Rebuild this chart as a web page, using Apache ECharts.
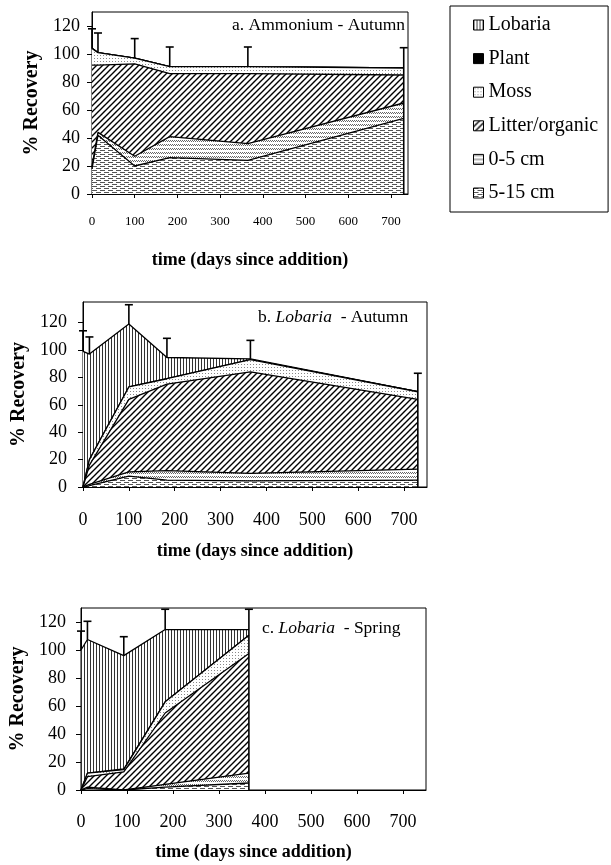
<!DOCTYPE html>
<html>
<head>
<meta charset="utf-8">
<script src="https://cdn.jsdelivr.net/npm/echarts@6/dist/echarts.min.js"></script>
<style>
  html, body { margin: 0; padding: 0; background: #fff; }
  #chart { width: 611px; height: 865px; }
</style>
</head>
<body>
<div id="chart"></div>
<script>
// legend order, top to bottom of the stack
var layerNames = ['Lobaria', 'Plant', 'Moss', 'Litter/organic', '0-5 cm', '5-15 cm'];
var dayTicks = [0, 100, 200, 300, 400, 500, 600, 700];
var pctTicks = [0, 20, 40, 60, 80, 100, 120];

// a. Ammonium - Autumn
var daysA = [0, 14, 100, 182, 365, 730];
var soil515A = [18, 42, 20, 26, 24, 54];
var soil05A = [2, 2, 7, 15, 12, 11];
var litterA = [72, 48, 66, 45, 50, 20];
var mossA = [12, 9, 4, 5, 5, 5];
var plantA = [0, 0, 0, 0, 0, 0];
var lobariaA = [0, 0, 0, 0, 0, 0];
var errA = [14, 14, 14, 14, 14, 14.5];

// b. Lobaria - Autumn
var daysB = [0, 14, 100, 183, 365, 730];
var soil515B = [0, 1, 8, 5, 4.5, 5];
var soil05B = [0, 1, 3, 7, 5.5, 8];
var litterB = [0, 14, 53, 63, 74, 51];
var mossB = [0, 4, 9, 4, 9, 5.5];
var plantB = [0, 0, 0, 0, 0, 0];
var lobariaB = [99, 77, 46, 15.5, 0.5, 0];
var errB = [15, 12.5, 14, 14, 13.5, 13.5];

// c. Lobaria - Spring
var daysC = [0, 14, 93, 183, 365];
var soil515C = [0, 1, 0, 2, 5];
var soil05C = [0, 1, 0, 2, 7];
var litterC = [0, 7.5, 13, 51, 85.5];
var mossC = [0, 2.5, 1.5, 8, 13];
var plantC = [0, 0, 0.5, 0, 0];
var lobariaC = [100, 95.5, 81, 51.6, 4.1];
var errC = [13.5, 13, 13.5, 14.5, 14.5];

var FONT = 'Liberation Serif';

function makePattern(w, h, draw) {
    var c = document.createElement('canvas');
    c.width = w;
    c.height = h;
    var ctx = c.getContext('2d');
    ctx.fillStyle = '#fff';
    ctx.fillRect(0, 0, w, h);
    draw(ctx);
    return { image: c, repeat: 'repeat' };
}

var fills = {
    'Lobaria': makePattern(3, 4, function (ctx) {
        ctx.fillStyle = '#333';
        ctx.fillRect(0, 0, 1, 4);
    }),
    'Plant': '#000',
    'Moss': makePattern(3, 3, function (ctx) {
        ctx.fillStyle = '#888';
        ctx.fillRect(1, 1, 1, 1);
    }),
    'Litter/organic': makePattern(6, 6, function (ctx) {
        ctx.strokeStyle = '#000';
        ctx.lineWidth = 1.4;
        ctx.beginPath();
        ctx.moveTo(-1, 7); ctx.lineTo(7, -1);
        ctx.moveTo(-1, 1); ctx.lineTo(1, -1);
        ctx.moveTo(5, 7); ctx.lineTo(7, 5);
        ctx.stroke();
    }),
    '0-5 cm': makePattern(4, 4, function (ctx) {
        ctx.fillStyle = '#666';
        ctx.fillRect(0, 0, 1, 1);
        ctx.fillRect(1, 1, 1, 1);
        ctx.fillRect(2, 0, 1, 1);
        ctx.fillRect(3, 1, 1, 1);
    }),
    '5-15 cm': makePattern(8, 4, function (ctx) {
        ctx.fillStyle = '#555';
        ctx.fillRect(0, 0, 5, 1);
        ctx.fillRect(4, 2, 4, 1);
        ctx.fillRect(0, 2, 1, 1);
    })
};

var panels = [
    { days: daysA, layers: [lobariaA, plantA, mossA, litterA, soil05A, soil515A], err: errA,
      grid: { left: 92, top: 12, width: 316, height: 182 }, xMax: 740, yMax: 130,
      xLabelSize: 13, xLabelMargin: 21, xNameGap: 57, yLabelMargin: 12, yNameGap: 42 },
    { days: daysB, layers: [lobariaB, plantB, mossB, litterB, soil05B, soil515B], err: errB,
      grid: { left: 83, top: 302, width: 344, height: 185 }, xMax: 750, yMax: 135,
      xLabelSize: 18, xLabelMargin: 24, xNameGap: 55, yLabelMargin: 16, yNameGap: 42 },
    { days: daysC, layers: [lobariaC, plantC, mossC, litterC, soil05C, soil515C], err: errC,
      grid: { left: 81, top: 608, width: 345, height: 182 }, xMax: 750, yMax: 130,
      xLabelSize: 18, xLabelMargin: 23, xNameGap: 53, yLabelMargin: 15, yNameGap: 43 }
];

var grids = [], xAxes = [], yAxes = [], series = [];

panels.forEach(function (p, k) {
    grids.push(Object.assign({ show: true, borderColor: '#000', borderWidth: 1, backgroundColor: '#fff' }, p.grid));
    xAxes.push({
        type: 'value', gridIndex: k, min: 0, max: p.xMax,
        name: 'time (days since addition)', nameLocation: 'middle', nameGap: p.xNameGap,
        nameTextStyle: { fontFamily: FONT, fontSize: 18, fontWeight: 'bold', color: '#000' },
        axisLine: { lineStyle: { color: '#000', width: 1 } },
        axisTick: { show: true, length: 4, customValues: dayTicks, lineStyle: { color: '#000' } },
        axisLabel: { customValues: dayTicks, margin: p.xLabelMargin, fontFamily: FONT, fontSize: p.xLabelSize, color: '#000' },
        splitLine: { show: false }
    });
    yAxes.push({
        type: 'value', gridIndex: k, min: 0, max: p.yMax,
        name: '% Recovery', nameLocation: 'middle', nameGap: p.yNameGap,
        nameTextStyle: { fontFamily: FONT, fontSize: 20, fontWeight: 'bold', color: '#000' },
        axisLine: { show: true, lineStyle: { color: '#000', width: 1 } },
        axisTick: { show: true, length: 5, customValues: pctTicks, lineStyle: { color: '#000' } },
        axisLabel: { customValues: pctTicks, margin: p.yLabelMargin, fontFamily: FONT, fontSize: 18, color: '#000' },
        splitLine: { show: false }
    });

    // cumulative tops; the biggest (total) is drawn first, the others painted over it
    var n = p.days.length;
    var cum = [];
    for (var j = p.layers.length - 1; j >= 0; j--) {
        var prev = cum.length ? cum[cum.length - 1] : null;
        var row = [];
        for (var i = 0; i < n; i++) {
            row.push((prev ? prev[i] : 0) + p.layers[j][i]);
        }
        cum.push(row);
    }
    cum.reverse(); // cum[0] = total (Lobaria top) ... cum[5] = 5-15 cm top

    layerNames.forEach(function (name, j) {
        series.push({
            name: name, type: 'line', xAxisIndex: k, yAxisIndex: k,
            showSymbol: false, symbol: 'none', silent: true,
            data: p.days.map(function (d, i) { return [d, cum[j][i]]; }),
            lineStyle: { color: '#000', width: 1.3 },
            itemStyle: { color: fills[name] },
            areaStyle: { color: fills[name], opacity: 1 },
            z: 2 + j * 0.01
        });
    });

    series.push({
        type: 'custom', xAxisIndex: k, yAxisIndex: k, silent: true, z: 5,
        data: p.days.map(function (d, i) { return [d, cum[0][i], cum[0][i] + p.err[i]]; }),
        renderItem: function (params, api) {
            var last = params.dataIndex === n - 1;
            var lo = api.coord([api.value(0), last ? 0 : api.value(1)]);
            var hi = api.coord([api.value(0), api.value(2)]);
            var st = { stroke: '#000', lineWidth: 1.6 };
            return {
                type: 'group',
                children: [
                    { type: 'line', shape: { x1: lo[0], y1: lo[1], x2: hi[0], y2: hi[1] }, style: st },
                    { type: 'line', shape: { x1: hi[0] - 4, y1: hi[1], x2: hi[0] + 4, y2: hi[1] }, style: st }
                ]
            };
        }
    });
});

var titleBase = { fontFamily: FONT, fontSize: 17.5, fontWeight: 'normal', color: '#000' };
var rich = {
    n: { fontFamily: FONT, fontSize: 17.5, color: '#000' },
    i: { fontFamily: FONT, fontSize: 17.5, fontStyle: 'italic', color: '#000' }
};

var option = {
    animation: false,
    backgroundColor: '#fff',
    title: [
        { text: 'a. Ammonium - Autumn', left: 232, top: 16, padding: 0, textStyle: titleBase },
        { text: '{n|b. }{i|Lobaria}{n|  - Autumn}', left: 258, top: 308, padding: 0, textStyle: Object.assign({ rich: rich }, titleBase) },
        { text: '{n|c. }{i|Lobaria}{n|  - Spring}', left: 262, top: 619, padding: 0, textStyle: Object.assign({ rich: rich }, titleBase) }
    ],
    legend: {
        orient: 'vertical', left: 450, top: 6,
        padding: [9, 10, 9, 23],
        borderColor: '#000', borderWidth: 1,
        icon: 'rect', itemWidth: 10, itemHeight: 10, itemGap: 13.6,
        textStyle: { fontFamily: FONT, fontSize: 20, lineHeight: 20, color: '#000' },
        selectedMode: false,
        data: layerNames.map(function (name) {
            return { name: name, itemStyle: { color: fills[name], borderColor: '#000', borderWidth: 1 } };
        })
    },
    grid: grids,
    xAxis: xAxes,
    yAxis: yAxes,
    series: series
};

var myChart = echarts.init(document.getElementById('chart'));
myChart.setOption(option);
</script>
</body>
</html>
